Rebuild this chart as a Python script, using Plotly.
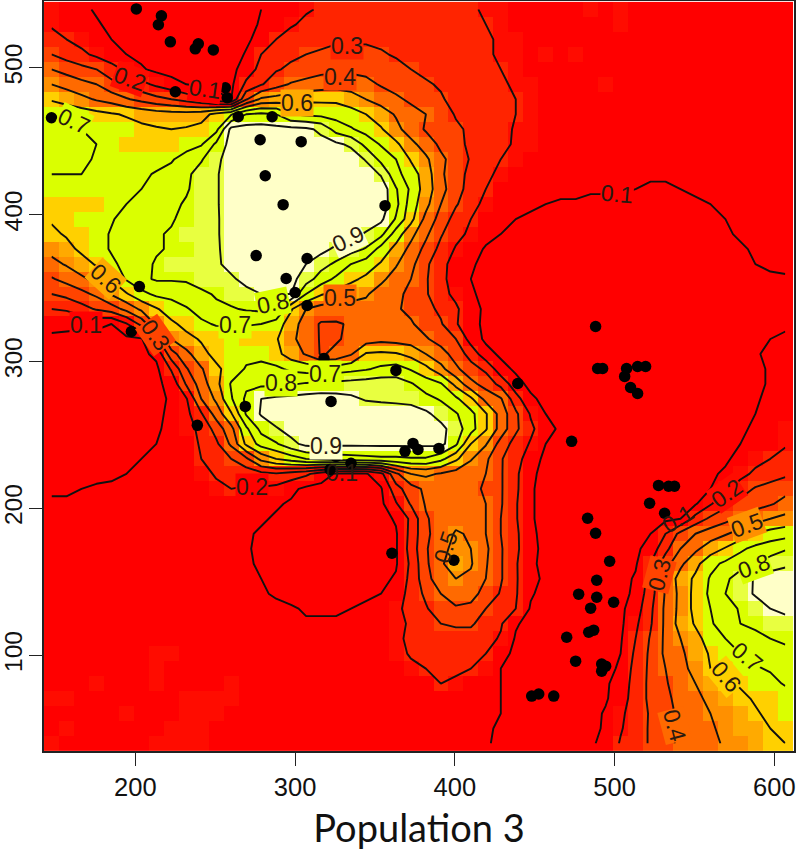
import plotly.graph_objects as go

# grid of the contoured surface, percent, top row first
grid_x = [147.5 + 9.375 * i for i in range(50)]
grid_y = [539.8 - 10.204 * j for j in range(50)]

density_rows = [
    [17,15,12,9,8,7,6,6,5,5, 5,5,6,8,10,13,16,19,21,22, 23,24,24,24,24,24,23,22,21,19, 17,16,15,15,14,14,18,14,18,14, 14,13,13,13,13,13,13,13,13,13],
    [19,16,13,11,8,6,5,5,4,4, 4,4,5,7,11,15,19,22,24,25, 26,27,27,27,27,26,25,24,22,20, 17,16,15,15,15,14,14,14,18,14, 14,14,13,13,13,13,13,13,13,13],
    [23,20,17,13,10,7,5,4,4,3, 3,3,4,8,14,20,24,26,28,29, 29,29,28,28,27,27,26,25,23,21, 19,17,16,15,15,15,14,14,14,14, 14,14,14,13,13,13,13,13,13,13],
    [30,26,22,18,14,10,8,6,5,4, 4,3,5,11,20,25,28,30,31,32, 32,32,31,29,28,27,26,25,24,21, 19,18,16,18,15,18,14,14,14,14, 14,14,13,13,13,13,13,13,13,13],
    [40,36,33,30,24,18,11,8,6,5, 4,4,7,15,23,29,32,35,37,38, 38,37,35,33,30,28,27,25,24,22, 20,18,16,15,15,14,14,14,14,13, 13,13,13,13,13,13,13,13,13,13],
    [50,47,43,40,33,29,23,18,14,10, 8,7,8,22,29,36,41,43,45,46, 45,43,39,36,33,31,29,27,25,23, 21,19,17,15,15,14,14,18,13,13, 13,13,13,13,13,13,13,13,13,13],
    [59,56,53,49,46,41,37,33,30,26, 21,14,10,39,52,54,56,58,58,58, 55,50,46,42,38,34,31,27,25,23, 21,20,17,15,14,14,13,13,13,13, 13,13,13,13,13,13,13,13,13,13],
    [68,67,65,63,61,59,57,55,54,54, 56,63,69,80,82,80,70,68,67,66, 64,60,55,49,44,40,36,29,26,24, 22,20,17,15,14,14,13,13,13,13, 13,13,13,13,13,13,13,13,13,13],
    [73,72,70,68,66,64,62,61,60,61, 63,67,93,94,94,93,93,92,88,76, 71,66,61,53,45,39,36,32,28,25, 23,19,17,15,14,14,13,13,13,13, 13,13,13,13,13,13,13,13,13,13],
    [74,73,71,70,67,63,62,61,62,66, 69,82,94,96,97,96,96,95,93,92, 88,77,69,62,53,45,38,33,28,25, 22,19,17,15,14,13,13,13,12,12, 12,12,12,13,13,13,13,13,13,13],
    [75,74,72,69,67,66,66,66,69,74, 79,88,94,96,97,97,97,97,97,96, 96,89,77,70,59,52,42,36,29,25, 20,18,16,15,14,13,13,12,12,12, 12,12,12,12,12,13,13,13,13,13],
    [70,70,70,66,65,66,68,71,73,78, 84,89,95,97,97,97,97,97,97,97, 96,96,89,73,65,55,42,33,28,22, 18,16,15,14,13,13,12,12,12,11, 11,11,11,12,12,13,13,13,13,13],
    [65,65,65,65,65,67,70,75,78,79, 84,89,95,97,97,97,97,97,97,97, 97,97,97,81,68,55,44,33,27,20, 16,14,13,13,12,12,11,11,11,10, 9,9,10,11,12,12,12,13,13,13],
    [61,62,62,63,65,70,74,78,78,81, 85,89,95,97,97,97,97,97,97,97, 97,97,96,83,65,53,40,31,24,17, 14,12,11,10,9,9,8,8,8,8, 8,8,9,9,10,11,12,12,12,12],
    [61,62,64,66,69,74,78,78,79,83, 87,89,94,96,97,97,97,97,97,97, 96,95,92,79,63,47,36,26,20,16, 13,10,9,8,7,7,7,7,7,7, 7,7,8,8,9,10,11,12,12,13],
    [58,61,63,66,71,75,77,79,81,84, 87,89,94,96,97,97,97,97,96,96, 93,89,83,65,53,42,31,23,18,13, 10,8,7,6,6,6,6,6,6,6, 6,6,7,7,8,9,11,11,12,13],
    [53,57,62,66,71,74,77,79,81,83, 86,89,93,95,96,96,96,95,93,88, 84,79,66,57,47,37,27,19,14,9, 7,6,6,5,5,5,5,5,5,5, 5,6,6,6,7,8,9,11,12,13],
    [47,51,56,61,68,73,77,81,84,85, 87,89,92,94,94,93,92,90,84,78, 70,65,59,51,43,32,23,16,11,8, 6,5,5,5,5,5,5,5,5,5, 5,5,5,6,6,7,8,10,11,12],
    [39,43,48,53,61,71,78,81,81,81, 84,87,89,92,93,93,93,85,75,68, 62,58,52,46,40,31,23,15,10,8, 6,5,5,5,5,5,5,5,5,5, 5,5,5,6,6,6,7,8,9,9],
    [30,33,37,42,51,59,67,72,73,76, 78,81,84,88,90,90,90,70,61,57, 54,51,46,42,38,31,24,17,11,8, 6,5,5,5,5,5,5,5,5,5, 5,5,5,5,6,6,7,8,8,9],
    [20,21,26,31,35,43,52,59,65,69, 74,78,79,81,82,82,61,50,46,45, 46,47,44,41,38,33,28,22,12,9, 7,6,5,5,5,5,5,5,5,5, 5,5,5,5,5,6,6,7,8,9],
    [13,13,12,12,10,19,33,52,58,63, 68,71,71,71,70,65,55,45,39,39, 41,43,43,42,41,36,31,21,13,8, 7,6,5,5,5,5,5,5,5,5, 5,5,5,5,5,6,6,7,8,9],
    [8,7,7,7,7,8,9,27,50,57, 61,63,64,63,62,61,52,46,39,39, 42,45,47,46,45,41,36,30,16,8, 6,5,5,5,4,4,4,4,4,4, 4,4,4,5,5,6,7,8,10,11],
    [7,7,7,7,7,7,8,12,36,47, 57,63,65,67,67,63,55,49,39,42, 49,61,62,61,57,50,44,36,26,14, 8,6,5,5,4,4,4,4,4,4, 4,4,4,4,5,6,7,9,12,13],
    [7,7,7,7,7,7,7,8,21,39, 49,58,64,71,73,72,68,66,65,65, 67,69,72,74,69,63,53,42,34,28, 14,8,6,5,5,4,4,4,4,4, 4,4,4,4,5,6,7,8,11,13],
    [7,7,7,7,7,7,7,8,13,31, 45,57,71,78,78,78,79,81,82,83, 84,85,86,85,81,75,71,57,43,36, 27,14,7,6,5,5,5,4,4,4, 4,4,4,5,5,6,7,8,11,13],
    [7,7,7,7,7,7,7,8,11,19, 40,52,69,82,90,92,93,94,95,94, 92,89,88,87,86,83,79,72,62,47, 41,24,12,7,5,5,5,4,4,4, 4,4,4,5,5,6,7,9,12,14],
    [7,7,7,7,7,7,7,9,11,17, 29,44,59,81,91,96,97,97,97,97, 97,97,97,97,96,92,86,81,73,61, 46,32,19,10,6,5,5,5,4,4, 4,4,4,5,5,6,8,10,12,15],
    [7,7,7,7,7,7,7,9,12,17, 22,34,47,68,83,89,94,96,97,97, 97,97,97,97,97,96,93,85,74,61, 46,32,22,14,8,6,5,5,4,4, 4,4,4,5,5,6,9,11,14,17],
    [7,7,7,7,7,7,8,10,12,16, 21,28,42,62,74,79,87,93,94,92, 92,92,92,92,92,92,93,82,60,51, 36,26,19,10,6,5,5,5,4,4, 4,4,4,5,6,8,10,13,15,19],
    [6,6,7,7,7,8,10,11,13,16, 20,26,30,38,53,60,65,70,73,75, 76,77,78,78,79,79,73,62,51,42, 31,23,16,7,6,5,5,5,4,4, 4,5,5,6,7,9,12,17,20,23],
    [7,7,7,8,9,10,11,12,13,15, 17,21,23,24,27,29,26,22,15,9, 8,9,17,38,50,52,49,46,43,40, 31,22,12,7,6,5,5,5,4,4, 4,5,6,7,9,11,17,22,25,28],
    [9,9,10,11,11,12,12,13,14,15, 16,18,20,19,19,17,12,8,7,6, 6,7,9,26,36,42,44,45,44,38, 31,22,11,7,6,5,5,5,4,4, 4,5,6,8,10,18,25,31,34,37],
    [11,11,12,12,12,12,13,13,13,13, 14,14,14,13,13,11,9,6,5,5, 5,6,8,19,31,41,44,45,44,40, 31,21,11,7,6,5,5,5,5,5, 6,6,7,9,19,27,33,36,39,43],
    [11,11,12,12,12,12,13,13,13,13, 13,13,12,12,11,9,6,5,5,5, 5,5,7,11,22,39,44,47,45,40, 30,21,11,7,6,5,5,5,6,6, 7,8,10,24,32,37,42,46,50,53],
    [12,12,12,12,12,12,13,13,13,13, 13,12,12,11,9,7,5,5,5,4, 4,5,6,9,23,38,45,51,49,40, 30,22,12,7,6,5,5,5,6,7, 10,20,33,40,45,49,54,60,64,66],
    [12,12,12,12,12,12,12,13,13,13, 13,12,12,11,8,6,5,4,4,4, 4,5,6,9,24,39,47,53,50,42, 31,22,13,7,6,5,5,5,6,8, 14,27,40,48,55,61,68,73,76,79],
    [12,12,12,12,12,12,12,12,13,13, 13,12,12,11,9,6,5,4,4,4, 4,5,7,9,22,38,49,54,51,41, 31,21,12,7,6,5,5,6,7,9, 20,36,48,57,67,72,76,80,84,88],
    [12,12,12,12,12,12,12,12,13,13, 13,13,12,12,10,7,5,5,5,5, 5,6,8,11,23,36,47,50,48,40, 31,21,13,8,6,5,5,6,7,11, 24,42,54,62,71,78,85,91,96,96],
    [12,12,12,12,12,12,12,12,13,13, 13,13,13,12,11,9,7,7,7,7, 8,9,10,14,24,32,40,44,43,37, 29,21,11,7,6,5,5,6,7,12, 26,41,53,63,72,80,86,91,93,94],
    [12,12,12,12,12,12,12,12,13,13, 13,13,13,13,12,12,11,9,9,9, 10,11,13,18,23,29,36,39,38,30, 24,20,9,6,5,5,5,6,8,15, 28,42,53,63,70,76,81,85,90,92],
    [13,12,12,12,12,12,12,13,13,13, 13,13,13,13,13,12,12,11,11,11, 12,13,15,18,21,27,30,31,31,27, 21,11,7,5,5,5,5,6,8,18, 29,42,54,61,69,74,80,83,85,87],
    [13,13,12,12,12,12,12,13,13,13, 13,13,13,13,13,13,13,13,13,13, 13,14,16,18,22,24,26,27,27,23, 19,9,6,5,5,5,5,6,9,20, 31,42,50,57,64,70,73,76,80,82],
    [13,13,13,13,13,13,13,18,18,13, 13,13,13,13,13,13,13,13,13,13, 13,14,15,17,21,22,23,23,22,20, 13,8,6,5,5,5,5,7,10,22, 32,42,48,55,61,66,70,73,75,77],
    [13,13,13,13,13,13,13,18,13,13, 13,13,13,13,13,13,13,13,13,13, 13,13,13,14,18,20,22,22,20,17, 10,7,6,5,5,5,6,8,11,24, 32,40,47,53,60,63,66,69,71,73],
    [13,13,13,18,13,13,13,18,13,13, 13,13,18,13,13,13,13,13,13,13, 13,13,13,13,14,16,20,18,16,13, 10,7,6,5,5,5,6,9,13,25, 32,39,45,50,54,58,61,64,67,71],
    [18,18,13,13,13,13,13,13,13,18, 18,18,18,13,13,13,13,13,13,13, 13,13,13,13,13,13,13,13,13,12, 10,7,6,5,5,5,6,9,15,25, 32,38,43,48,52,55,58,61,63,65],
    [13,13,13,13,13,18,13,13,13,18, 18,18,13,13,13,13,13,13,13,13, 13,13,13,13,13,13,13,13,13,12, 10,7,6,5,5,5,7,11,18,25, 31,37,42,46,50,53,55,59,62,64],
    [13,18,13,13,13,13,13,13,18,18, 18,13,13,13,13,13,13,13,13,13, 13,13,13,13,13,13,13,13,13,11, 9,6,5,5,5,6,8,11,19,26, 31,37,42,46,49,52,54,57,60,63],
    [18,13,13,13,13,13,13,18,18,18, 18,13,13,13,13,13,13,13,13,13, 13,13,13,13,13,13,13,12,12,11, 8,6,5,5,5,7,9,12,21,26, 31,37,42,46,48,51,53,56,58,60],
]
for row in density_rows:
    assert len(row) == 50

# observations
pop3 = [200.6,216.3,214.4,221.9,239.4,237.5,248.8,225,256.3,257.5,264.4,285.6,147.5,278.1,303.8,281.3,292.5,356.3,
        275.6,307.5,294.4,300,307.5,202.5,197.5,318.1,363.1,268.8,322.5,439.4,373.8,376.9,368.8,390,325.6,335,321.9,
        238.8,360.6,399.4,473.1,527.5,533.8,537.5,521.9,531.3,483.1,488.1,496.9,488.8,477.5,488.8,499.4,485,486.9,
        483.8,470,475.6,491.9,494.4,491.9,452.5,448.1,461.9,488.1,489.4,492.5,507.5,506.3,514.4,519.4,510,514.4]
pop_other = [540.1,535.4,529.3,517.7,516.3,512.9,512.2,483.7,486.4,479.6,466.7,466.7,466,451,449.7,426.5,406.8,406.1,
             372.1,370.1,356.5,346.9,338.1,351,320.4,302,293.9,269.4,272.8,285,244.2,240.1,238.8,240.8,235.4,230.6,226.5,
             256.5,169.4,164.6,245.6,215.6,215,215,203.4,196.6,193.2,183,163.9,151,141.5,139.4,136,132,117,
             115.6,112.2,95.9,93.9,92.5,89.1,73.5,72.1,72.1,323.8,295.2,295.2,295.2,289.8,296.6,296.6,282.3,278.2]

# contour labels: text, x, y, angle, background
NO_BG = "rgba(0,0,0,0)"
label_text = ["0.3","0.4","0.2","0.1","0.7","0.6","0.6","0.5","0.8","0.9","0.7","0.1","0.3","0.7",
              "0.8","0.9","0.1","0.2","0.5","0.1","0.1","0.2","0.3","0.5","0.8","0.7","0.6","0.4"]
label_x = [332.5,328.1,196.9,243.8,161.3,301.3,181.9,328.1,286.3,333.1,262.5,168.8,212.5,318.8,
           291.3,319.4,329.4,273.1,394.4,501.3,539.4,570.6,528.1,583.1,587.5,583.1,570,537.5]
label_y = [515,493.9,492.5,485.7,463.9,476.2,356.5,343.5,339.5,383.7,324.5,324.5,317.7,291.2,
           285,242.2,223.8,214.3,173.5,414.3,192.5,210.2,154.4,188.4,160.5,98.6,85,52.4]
label_angle = [0,0,20,8,25,0,42,0,-12,-25,0,0,55,0,0,0,0,0,-72,5,-32,-35,-75,-20,-20,40,50,75]
label_bg = ["#FF2400","#FF4400","#FF0C00","#FF0000","#DAFF00","#FFAA00","#FFAA00","#FF6A00","#DAFF00","#FFFFC8",
            "#DAFF00","#FF0000","#FF4400","#DAFF00","#DAFF00","#FFFFC8",NO_BG,"#FF0000",NO_BG,"#FF0000",
            NO_BG,"#FF0C00","#FF4400","#FF9000","#DAFF00","#DAFF00","#FFD000","#FF6A00"]

color_breaks = [0, 17, 20, 30, 40, 50, 54, 58, 64, 84, 90, 100]
color_values = ["#FF0000", "#FF0C00", "#FF2400", "#FF4400", "#FF6A00", "#FF9000", "#FFAA00", "#FFD000",
                "#DAFF00", "#E8FF40", "#FFFFC8"]
colorscale = []
for k, col in enumerate(color_values):
    colorscale.append([color_breaks[k] / 100, col])
    colorscale.append([color_breaks[k + 1] / 100, col])

fig = go.Figure()
fig.add_trace(go.Heatmap(x=grid_x, y=grid_y, z=density_rows, zmin=0, zmax=100, colorscale=colorscale,
                         showscale=False, hoverinfo="skip"))
fig.add_trace(go.Contour(x=grid_x, y=grid_y, z=density_rows, showscale=False, hoverinfo="skip",
                         contours=dict(coloring="none", start=10, end=90, size=10),
                         line=dict(color="#111111", width=1.9, smoothing=0)))
fig.add_trace(go.Scatter(x=pop3, y=pop_other, mode="markers", hoverinfo="skip",
                         marker=dict(color="black", size=11.5)))

for t, lx, ly, a, bg in zip(label_text, label_x, label_y, label_angle, label_bg):
    fig.add_annotation(x=lx, y=ly, text=t, textangle=a, showarrow=False, bgcolor=bg, borderpad=0,
                       font=dict(family="Liberation Sans", size=23, color="#2a1a10"))

fig.update_xaxes(range=[142.8, 612.3], tickvals=[200, 300, 400, 500, 600], ticks="outside", ticklen=13,
                 tickwidth=1.3, tickcolor="#222", showgrid=False, zeroline=False, showline=True, mirror=True,
                 linecolor="#222", linewidth=1.5, automargin=False,
                 tickfont=dict(family="Liberation Sans", size=25.5, color="#111"),
                 title=dict(text="Population 3", font=dict(family="Lato", size=38, color="#111")))
fig.update_yaxes(range=[34.7, 545.5], tickvals=[100, 200, 300, 400, 500], ticks="outside", ticklen=13,
                 tickwidth=1.3, tickcolor="#222", showgrid=False, zeroline=False, showline=True, mirror=True,
                 linecolor="#222", linewidth=1.5, tickangle=-90, automargin=False, ticklabelstandoff=-3,
                 tickfont=dict(family="Liberation Sans", size=24.5, color="#111"))
fig.update_layout(width=797, height=853, margin=dict(l=43.5, r=2.5, t=1, b=102), showlegend=False,
                  plot_bgcolor="white", paper_bgcolor="white")

fig.write_html("out.html", config={"displayModeBar": False}, post_script="document.body.style.margin='0';")
